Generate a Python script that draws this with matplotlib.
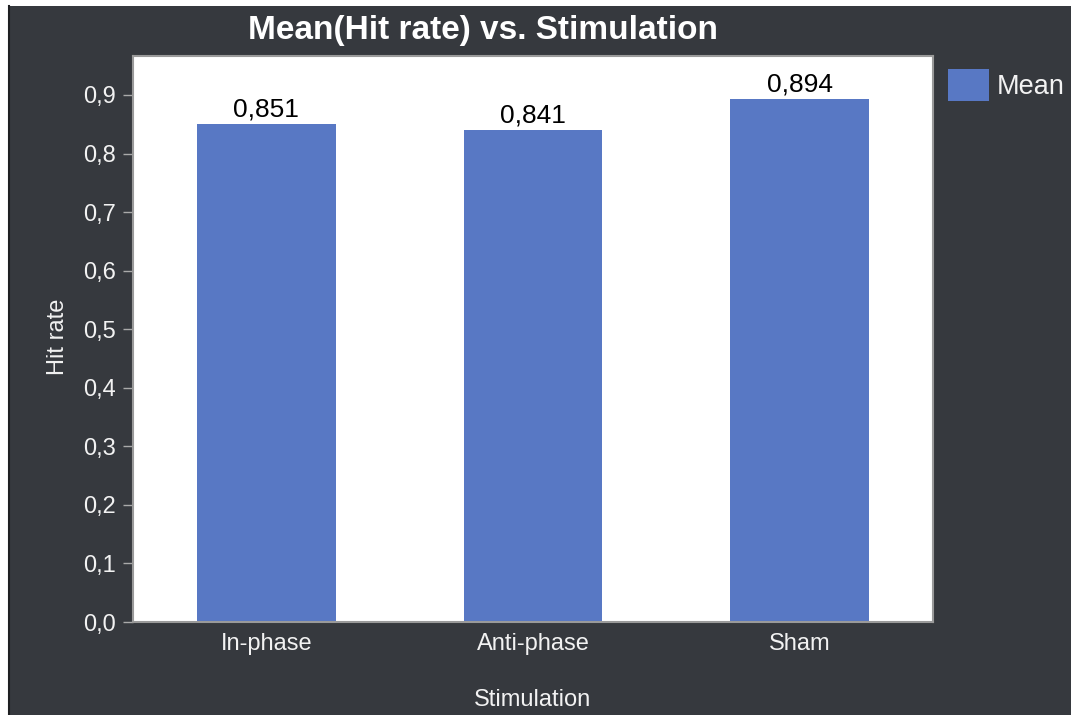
import matplotlib.pyplot as plt
import matplotlib.patches as mpatches
from matplotlib.lines import Line2D

plt.rcParams['font.family'] = ['Liberation Sans', 'DejaVu Sans']

stimulation = ['In-phase', 'Anti-phase', 'Sham']
mean_hit_rate = [0.851, 0.841, 0.894]
yticks = [0.0, 0.1, 0.2, 0.3, 0.4, 0.5, 0.6, 0.7, 0.8, 0.9]

bg = '#36393e'
bar_color = '#5878c4'
fg = '#f2f2f2'

W, H = 1074, 715
fig = plt.figure(figsize=(W / 100, H / 100), dpi=100, facecolor='white')
# dark panel inside a thin white frame
fig.patches.append(mpatches.Rectangle((8 / W, 0), (1071 - 8) / W, (H - 6) / H,
                                      transform=fig.transFigure, facecolor=bg,
                                      edgecolor='none', zorder=-10))
fig.lines.append(Line2D([8.5 / W, 8.5 / W], [0, (H - 6) / H], transform=fig.transFigure,
                        color='#1e1f22', linewidth=1.5, zorder=-9))

ax = fig.add_axes([133 / W, 93 / H, 800 / W, 566 / H])
ax.set_facecolor('white')

x = range(len(stimulation))
bars = ax.bar(x, mean_hit_rate, width=0.52, color=bar_color, label='Mean', zorder=2)
for b, v in zip(bars, mean_hit_rate):
    ax.text(b.get_x() + b.get_width() / 2, v + 0.004, f'{v:.3f}'.replace('.', ','),
            ha='center', va='bottom', fontsize=19, color='black')

ax.set_xlim(-0.5, 2.5)
ax.set_ylim(0, 0.9666)
ax.set_xticks(list(x))
ax.set_xticklabels(stimulation)
ax.set_yticks(yticks)
ax.set_yticklabels([f'{t:.1f}'.replace('.', ',') for t in yticks])
ax.tick_params(axis='x', length=0, pad=8, labelsize=17, colors=fg)
ax.tick_params(axis='y', length=7, width=1, pad=5, labelsize=17, colors=fg)
ax.tick_params(axis='y', color='#aaaaaa')

for s in ax.spines.values():
    s.set_color('#9a9a9a')
    s.set_linewidth(1.5)

fig.text(58 / W, 1 - 337 / H, 'Hit rate', rotation=90, color=fg, fontsize=17,
         ha='center', va='center')
fig.text(533 / W, 1 - 700 / H, 'Stimulation', color=fg, fontsize=17,
         ha='center', va='center')
fig.text(483 / W, 1 - 30 / H, 'Mean(Hit rate) vs. Stimulation', color='white',
         fontsize=24, fontweight='bold', ha='center', va='center')

ax.legend(loc='upper left', bbox_to_anchor=(1.0, 1.003), frameon=False,
          fontsize=19.5, labelcolor=fg, handlelength=1.5, handleheight=1.45,
          handletextpad=0.3, borderaxespad=0.15)

fig.savefig('out.png', dpi=100, facecolor=fig.get_facecolor())
